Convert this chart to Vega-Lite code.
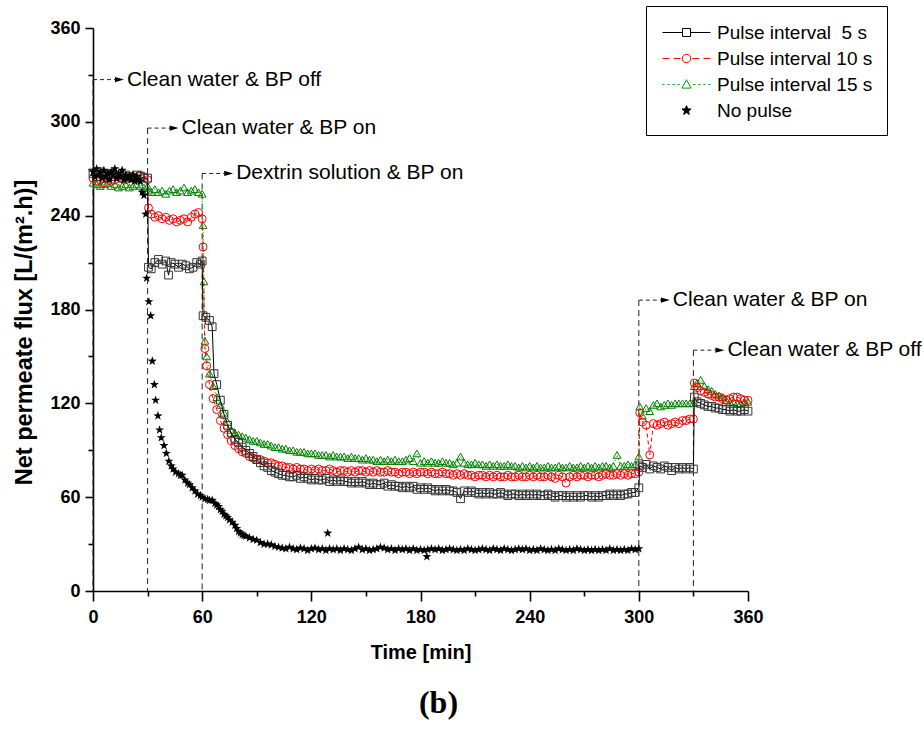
{
  "$schema": "https://vega.github.io/schema/vega-lite/v6.json",
  "width": 655,
  "height": 563,
  "autosize": {"type": "none"},
  "padding": {"left": 93, "top": 28, "right": 176, "bottom": 144},
  "background": "white",
  "config": {"view": {"stroke": null}, "font": "Liberation Sans"},
  "title": {"text": "(b)", "orient": "bottom", "font": "Liberation Serif", "fontSize": 32, "fontWeight": "bold", "color": "black", "offset": 26, "dx": 18},
  "datasets": {
    "lg": [
      {"s": "Pulse interval \u00a05 s"},
      {"s": "Pulse interval 10 s"},
      {"s": "Pulse interval 15 s"},
      {"s": "No pulse"}
    ],
    "ev": [
      {"t": 0, "h": 327, "lab": "Clean water & BP off"},
      {"t": 30, "h": 296, "lab": "Clean water & BP on"},
      {"t": 60, "h": 267, "lab": "Dextrin solution & BP on"},
      {"t": 300, "h": 186, "lab": "Clean water & BP on"},
      {"t": 330, "h": 154, "lab": "Clean water & BP off"}
    ],
    "p5": [
      {"t":0,"v":267},{"t":2,"v":265},{"t":4,"v":268},{"t":6,"v":264},{"t":8,"v":266},{"t":10,"v":267},{"t":12,"v":265},{"t":14,"v":266},{"t":16,"v":264},{"t":18,"v":266},{"t":20,"v":265},{"t":22,"v":264},{"t":24,"v":266},{"t":26,"v":265},{"t":28,"v":264},{"t":30,"v":264},
      {"t":30.5,"v":207},{"t":32,"v":206},{"t":34,"v":210},{"t":36,"v":212},{"t":38,"v":209},{"t":40,"v":211},{"t":41.5,"v":202},{"t":43,"v":210},{"t":45,"v":209},{"t":47,"v":207},{"t":49,"v":209},{"t":51,"v":208},{"t":53,"v":206},{"t":55,"v":207},{"t":57,"v":210},{"t":59,"v":209},{"t":60,"v":211},
      {"t":60.5,"v":176},{"t":62,"v":175},{"t":64,"v":173},{"t":65.5,"v":169},{"t":66.5,"v":139},{"t":68,"v":132},{"t":70,"v":122},{"t":72,"v":113},{"t":74,"v":106},{"t":76,"v":101},{"t":78,"v":97},{"t":80,"v":95},{"t":82,"v":92},{"t":84,"v":90},{"t":86,"v":88},{"t":88,"v":86},{"t":90,"v":84},{"t":92,"v":82},{"t":94,"v":80},{"t":96,"v":79},{"t":98,"v":77},{"t":100,"v":76},{"t":102,"v":75},{"t":104,"v":74},{"t":106,"v":74},{"t":108,"v":73},{"t":110,"v":73},{"t":112,"v":74},{"t":114,"v":72},{"t":116,"v":73},{"t":118,"v":72},{"t":120,"v":71},{"t":122,"v":72},{"t":124,"v":71},{"t":126,"v":71},{"t":128,"v":72},{"t":130,"v":70},{"t":132,"v":71},{"t":134,"v":70},{"t":136,"v":71},{"t":138,"v":70},{"t":140,"v":70},{"t":142,"v":69},{"t":144,"v":70},{"t":146,"v":69},{"t":148,"v":70},{"t":150,"v":69},{"t":152,"v":68},{"t":154,"v":69},{"t":156,"v":68},{"t":158,"v":68},{"t":160,"v":69},{"t":162,"v":67},{"t":164,"v":68},{"t":166,"v":67},{"t":168,"v":67},{"t":170,"v":66},{"t":172,"v":67},{"t":174,"v":66},{"t":176,"v":67},{"t":178,"v":65},{"t":180,"v":66},{"t":182,"v":65},{"t":184,"v":66},{"t":186,"v":65},{"t":188,"v":64},{"t":190,"v":65},{"t":192,"v":64},{"t":194,"v":65},{"t":196,"v":64},{"t":198,"v":64},{"t":200,"v":63},{"t":202,"v":59},{"t":204,"v":64},{"t":206,"v":63},{"t":208,"v":64},{"t":210,"v":63},{"t":212,"v":62},{"t":214,"v":63},{"t":216,"v":62},{"t":218,"v":63},{"t":220,"v":62},{"t":222,"v":62},{"t":224,"v":63},{"t":226,"v":62},{"t":228,"v":61},{"t":230,"v":62},{"t":232,"v":62},{"t":234,"v":61},{"t":236,"v":62},{"t":238,"v":61},{"t":240,"v":62},{"t":242,"v":61},{"t":244,"v":62},{"t":246,"v":61},{"t":248,"v":61},{"t":250,"v":62},{"t":252,"v":61},{"t":254,"v":60},{"t":256,"v":61},{"t":258,"v":61},{"t":260,"v":60},{"t":262,"v":61},{"t":264,"v":60},{"t":266,"v":61},{"t":268,"v":60},{"t":270,"v":61},{"t":272,"v":61},{"t":274,"v":60},{"t":276,"v":61},{"t":278,"v":60},{"t":280,"v":61},{"t":282,"v":61},{"t":284,"v":62},{"t":286,"v":61},{"t":288,"v":62},{"t":290,"v":61},{"t":292,"v":62},{"t":294,"v":62},{"t":296,"v":63},{"t":298,"v":63},{"t":300,"v":66},
      {"t":300.5,"v":80},{"t":302,"v":79},{"t":304,"v":81},{"t":306,"v":78},{"t":308,"v":80},{"t":310,"v":79},{"t":312,"v":78},{"t":314,"v":80},{"t":316,"v":79},{"t":318,"v":77},{"t":320,"v":79},{"t":322,"v":78},{"t":324,"v":79},{"t":326,"v":78},{"t":328,"v":79},{"t":330,"v":78},
      {"t":330.5,"v":124},{"t":332,"v":121},{"t":334,"v":120},{"t":336,"v":119},{"t":338,"v":118},{"t":340,"v":118},{"t":342,"v":117},{"t":344,"v":117},{"t":346,"v":116},{"t":348,"v":116},{"t":350,"v":115},{"t":352,"v":116},{"t":354,"v":115},{"t":356,"v":115},{"t":358,"v":116},{"t":360,"v":115}
    ],
    "p10": [
      {"t":0,"v":264},{"t":2,"v":262},{"t":4,"v":263},{"t":6,"v":261},{"t":8,"v":264},{"t":10,"v":262},{"t":12,"v":263},{"t":14,"v":265},{"t":16,"v":264},{"t":18,"v":263},{"t":20,"v":264},{"t":22,"v":265},{"t":24,"v":264},{"t":26,"v":266},{"t":28,"v":265},{"t":30,"v":263},
      {"t":30.5,"v":245},{"t":32,"v":241},{"t":34,"v":239},{"t":36,"v":240},{"t":38,"v":238},{"t":40,"v":239},{"t":42,"v":237},{"t":44,"v":238},{"t":46,"v":236},{"t":48,"v":237},{"t":50,"v":238},{"t":52,"v":236},{"t":54,"v":239},{"t":56,"v":241},{"t":58,"v":242},{"t":60,"v":238},
      {"t":60.5,"v":220},{"t":61.5,"v":155},{"t":62.5,"v":144},{"t":64,"v":132},{"t":66,"v":123},{"t":68,"v":116},{"t":70,"v":109},{"t":72,"v":104},{"t":74,"v":100},{"t":76,"v":96},{"t":78,"v":93},{"t":80,"v":91},{"t":82,"v":89},{"t":84,"v":88},{"t":86,"v":86},{"t":88,"v":85},{"t":90,"v":84},{"t":92,"v":84},{"t":94,"v":83},{"t":96,"v":82},{"t":98,"v":82},{"t":100,"v":81},{"t":102,"v":80},{"t":104,"v":80},{"t":106,"v":79},{"t":108,"v":79},{"t":110,"v":78},{"t":112,"v":79},{"t":114,"v":78},{"t":116,"v":78},{"t":118,"v":77},{"t":120,"v":78},{"t":122,"v":77},{"t":124,"v":78},{"t":126,"v":77},{"t":128,"v":77},{"t":130,"v":78},{"t":132,"v":77},{"t":134,"v":76},{"t":136,"v":77},{"t":138,"v":77},{"t":140,"v":76},{"t":142,"v":77},{"t":144,"v":76},{"t":146,"v":77},{"t":148,"v":77},{"t":150,"v":76},{"t":152,"v":77},{"t":154,"v":76},{"t":156,"v":77},{"t":158,"v":76},{"t":160,"v":76},{"t":162,"v":77},{"t":164,"v":76},{"t":166,"v":76},{"t":168,"v":75},{"t":170,"v":76},{"t":172,"v":76},{"t":174,"v":75},{"t":176,"v":76},{"t":178,"v":75},{"t":180,"v":76},{"t":182,"v":76},{"t":184,"v":75},{"t":186,"v":76},{"t":188,"v":75},{"t":190,"v":75},{"t":192,"v":76},{"t":194,"v":75},{"t":196,"v":75},{"t":198,"v":74},{"t":200,"v":75},{"t":202,"v":74},{"t":204,"v":75},{"t":206,"v":74},{"t":208,"v":74},{"t":210,"v":73},{"t":212,"v":74},{"t":214,"v":74},{"t":216,"v":73},{"t":218,"v":74},{"t":220,"v":73},{"t":222,"v":74},{"t":224,"v":73},{"t":226,"v":73},{"t":228,"v":74},{"t":230,"v":73},{"t":232,"v":73},{"t":234,"v":74},{"t":236,"v":73},{"t":238,"v":73},{"t":240,"v":74},{"t":242,"v":73},{"t":244,"v":74},{"t":246,"v":73},{"t":248,"v":73},{"t":250,"v":74},{"t":252,"v":73},{"t":254,"v":72},{"t":256,"v":74},{"t":258,"v":73},{"t":260,"v":69},{"t":262,"v":73},{"t":264,"v":74},{"t":266,"v":73},{"t":268,"v":74},{"t":270,"v":74},{"t":272,"v":73},{"t":274,"v":74},{"t":276,"v":74},{"t":278,"v":73},{"t":280,"v":74},{"t":282,"v":75},{"t":284,"v":74},{"t":286,"v":74},{"t":288,"v":75},{"t":290,"v":74},{"t":292,"v":75},{"t":294,"v":74},{"t":296,"v":75},{"t":298,"v":75},{"t":300,"v":76},
      {"t":300.5,"v":114},{"t":302,"v":108},{"t":304,"v":106},{"t":306,"v":87},{"t":308,"v":107},{"t":310,"v":106},{"t":312,"v":107},{"t":314,"v":108},{"t":316,"v":106},{"t":318,"v":107},{"t":320,"v":108},{"t":322,"v":107},{"t":324,"v":109},{"t":326,"v":109},{"t":328,"v":110},{"t":330,"v":110},
      {"t":330.5,"v":133},{"t":332,"v":130},{"t":334,"v":128},{"t":336,"v":127},{"t":338,"v":126},{"t":340,"v":125},{"t":342,"v":124},{"t":344,"v":124},{"t":346,"v":123},{"t":348,"v":122},{"t":350,"v":123},{"t":352,"v":124},{"t":354,"v":124},{"t":356,"v":123},{"t":358,"v":122},{"t":360,"v":122}
    ],
    "p15": [
      {"t":0,"v":261},{"t":2,"v":260},{"t":4,"v":259},{"t":6,"v":260},{"t":8,"v":261},{"t":10,"v":259},{"t":12,"v":260},{"t":14,"v":258},{"t":16,"v":259},{"t":18,"v":260},{"t":20,"v":258},{"t":22,"v":259},{"t":24,"v":260},{"t":26,"v":259},{"t":28,"v":258},{"t":30,"v":259},
      {"t":30.5,"v":256},{"t":32,"v":255},{"t":34,"v":257},{"t":36,"v":255},{"t":38,"v":256},{"t":40,"v":254},{"t":42,"v":256},{"t":44,"v":257},{"t":46,"v":255},{"t":48,"v":256},{"t":50,"v":258},{"t":52,"v":255},{"t":54,"v":256},{"t":56,"v":257},{"t":58,"v":255},{"t":60,"v":254},
      {"t":60.5,"v":234},{"t":61,"v":198},{"t":61.5,"v":160},{"t":62.5,"v":150},{"t":64,"v":139},{"t":66,"v":131},{"t":68,"v":124},{"t":70,"v":119},{"t":72,"v":114},{"t":74,"v":108},{"t":76,"v":103},{"t":78,"v":101},{"t":80,"v":100},{"t":82,"v":99},{"t":84,"v":98},{"t":86,"v":97},{"t":88,"v":96},{"t":90,"v":96},{"t":92,"v":95},{"t":94,"v":94},{"t":96,"v":94},{"t":98,"v":93},{"t":100,"v":92},{"t":102,"v":92},{"t":104,"v":91},{"t":106,"v":91},{"t":108,"v":90},{"t":110,"v":90},{"t":112,"v":89},{"t":114,"v":89},{"t":116,"v":89},{"t":118,"v":88},{"t":120,"v":88},{"t":122,"v":88},{"t":124,"v":87},{"t":126,"v":87},{"t":128,"v":87},{"t":130,"v":86},{"t":132,"v":87},{"t":134,"v":86},{"t":136,"v":86},{"t":138,"v":86},{"t":140,"v":85},{"t":142,"v":86},{"t":144,"v":85},{"t":146,"v":85},{"t":148,"v":84},{"t":150,"v":85},{"t":152,"v":84},{"t":154,"v":84},{"t":156,"v":83},{"t":158,"v":84},{"t":160,"v":83},{"t":162,"v":84},{"t":164,"v":83},{"t":166,"v":84},{"t":168,"v":83},{"t":170,"v":83},{"t":172,"v":84},{"t":174,"v":85},{"t":176,"v":83},{"t":178,"v":88},{"t":180,"v":82},{"t":182,"v":83},{"t":184,"v":82},{"t":186,"v":83},{"t":188,"v":82},{"t":190,"v":82},{"t":192,"v":83},{"t":194,"v":82},{"t":196,"v":82},{"t":198,"v":81},{"t":200,"v":82},{"t":202,"v":86},{"t":204,"v":82},{"t":206,"v":81},{"t":208,"v":81},{"t":210,"v":82},{"t":212,"v":81},{"t":214,"v":81},{"t":216,"v":80},{"t":218,"v":81},{"t":220,"v":80},{"t":222,"v":81},{"t":224,"v":80},{"t":226,"v":80},{"t":228,"v":81},{"t":230,"v":80},{"t":232,"v":80},{"t":234,"v":79},{"t":236,"v":80},{"t":238,"v":79},{"t":240,"v":80},{"t":242,"v":79},{"t":244,"v":80},{"t":246,"v":79},{"t":248,"v":79},{"t":250,"v":80},{"t":252,"v":79},{"t":254,"v":79},{"t":256,"v":80},{"t":258,"v":79},{"t":260,"v":79},{"t":262,"v":80},{"t":264,"v":79},{"t":266,"v":79},{"t":268,"v":80},{"t":270,"v":79},{"t":272,"v":80},{"t":274,"v":79},{"t":276,"v":80},{"t":278,"v":79},{"t":280,"v":80},{"t":282,"v":80},{"t":284,"v":79},{"t":286,"v":80},{"t":288,"v":87},{"t":290,"v":80},{"t":292,"v":80},{"t":294,"v":81},{"t":296,"v":80},{"t":298,"v":81},{"t":300,"v":86},
      {"t":300.5,"v":118},{"t":302,"v":112},{"t":304,"v":117},{"t":306,"v":115},{"t":308,"v":119},{"t":310,"v":120},{"t":312,"v":118},{"t":314,"v":119},{"t":316,"v":120},{"t":318,"v":119},{"t":320,"v":120},{"t":322,"v":120},{"t":324,"v":120},{"t":326,"v":120},{"t":328,"v":120},{"t":330,"v":120},
      {"t":330.5,"v":131},{"t":332,"v":133},{"t":334,"v":135},{"t":336,"v":131},{"t":338,"v":129},{"t":340,"v":128},{"t":342,"v":126},{"t":344,"v":125},{"t":346,"v":124},{"t":348,"v":122},{"t":350,"v":121},{"t":352,"v":121},{"t":354,"v":120},{"t":356,"v":120},{"t":358,"v":121},{"t":360,"v":121}
    ],
    "np": [
      {"t":0,"v":268},{"t":1,"v":265},{"t":2,"v":270},{"t":3,"v":266},{"t":4,"v":268},{"t":5,"v":264},{"t":6,"v":269},{"t":7,"v":265},{"t":8,"v":267},{"t":9,"v":263},{"t":10,"v":268},{"t":11,"v":266},{"t":12,"v":270},{"t":13,"v":264},{"t":14,"v":267},{"t":15,"v":265},{"t":16,"v":269},{"t":17,"v":263},{"t":18,"v":266},{"t":19,"v":264},{"t":20,"v":265},{"t":21,"v":263},{"t":22,"v":266},{"t":23,"v":262},{"t":24,"v":265},{"t":25,"v":263},{"t":26,"v":262},{"t":27,"v":255},{"t":28,"v":253},{"t":29,"v":241},
      {"t":29.5,"v":200},{"t":30.7,"v":185},{"t":31.7,"v":176},{"t":32.6,"v":147},{"t":33.7,"v":132},{"t":34.4,"v":122},{"t":35.7,"v":112},{"t":36.6,"v":103},{"t":37.5,"v":98},{"t":39,"v":93},{"t":40.3,"v":88},{"t":41.7,"v":83},{"t":43,"v":80},{"t":44,"v":78},{"t":45.4,"v":76},{"t":47,"v":75},{"t":48,"v":74},{"t":49,"v":74},{"t":50.5,"v":71},{"t":52,"v":69},{"t":53,"v":68},{"t":54.5,"v":66},{"t":56,"v":64},{"t":57.5,"v":62},{"t":59,"v":61},{"t":60,"v":60},{"t":61.5,"v":59},{"t":63,"v":58.5},{"t":64,"v":58},{"t":65.5,"v":58},{"t":67,"v":56},{"t":68,"v":55},{"t":69,"v":54},{"t":70,"v":52},{"t":71,"v":51},{"t":72,"v":49},{"t":73,"v":48},{"t":74,"v":47},{"t":75,"v":45.5},{"t":76.5,"v":44},{"t":78,"v":42},{"t":79,"v":40},{"t":80,"v":38},{"t":81,"v":37},{"t":82,"v":36},{"t":83,"v":35.5},{"t":84,"v":35},{"t":86,"v":34},{"t":88,"v":33},{"t":90,"v":32.5},{"t":92,"v":31},{"t":94,"v":30},{"t":96,"v":30},{"t":98,"v":29.5},{"t":100,"v":28.5},{"t":102,"v":28},{"t":104,"v":27.5},
      {"t":106,"v":27},{"t":108,"v":28},{"t":110,"v":27},{"t":112,"v":26.5},{"t":114,"v":27.5},{"t":116,"v":27},{"t":118,"v":26},{"t":120,"v":27},{"t":122,"v":27.5},{"t":124,"v":26.5},{"t":126,"v":27},{"t":128,"v":26},{"t":129,"v":37},{"t":130,"v":27},{"t":132,"v":26.5},{"t":134,"v":27},{"t":136,"v":26},{"t":138,"v":27},{"t":140,"v":26.5},{"t":142,"v":26},{"t":144,"v":27},{"t":146,"v":28},{"t":148,"v":26.5},{"t":150,"v":27},{"t":152,"v":26},{"t":154,"v":26.5},{"t":156,"v":27},{"t":158,"v":28},{"t":160,"v":27.5},{"t":162,"v":26.5},{"t":164,"v":27},{"t":166,"v":26},{"t":168,"v":27},{"t":170,"v":26.5},{"t":172,"v":27},{"t":174,"v":26},{"t":176,"v":27},{"t":178,"v":26},{"t":180,"v":26.5},{"t":182,"v":26},{"t":183.5,"v":22},{"t":184,"v":26.5},{"t":186,"v":27},{"t":188,"v":26.5},{"t":190,"v":27},{"t":192,"v":26},{"t":194,"v":26.5},{"t":196,"v":27},{"t":198,"v":26.5},{"t":200,"v":26},{"t":202,"v":26.5},{"t":204,"v":26},{"t":206,"v":27},{"t":208,"v":26.5},{"t":210,"v":26},{"t":212,"v":26.5},{"t":214,"v":27},{"t":216,"v":26.5},{"t":218,"v":26},{"t":220,"v":27},{"t":222,"v":26.5},{"t":224,"v":26},{"t":226,"v":27},{"t":228,"v":26.5},{"t":230,"v":26},{"t":232,"v":26.5},{"t":234,"v":27},{"t":236,"v":26.5},{"t":238,"v":27},{"t":240,"v":26},{"t":242,"v":26.5},{"t":244,"v":26},{"t":246,"v":27},{"t":248,"v":26.5},{"t":250,"v":26},{"t":252,"v":26.5},{"t":254,"v":26},{"t":256,"v":27},{"t":258,"v":26.5},{"t":260,"v":26},{"t":262,"v":26.5},{"t":264,"v":26},{"t":266,"v":27},{"t":268,"v":26.5},{"t":270,"v":26},{"t":272,"v":26.5},{"t":274,"v":26},{"t":276,"v":26.5},{"t":278,"v":26},{"t":280,"v":26.5},{"t":282,"v":26},{"t":284,"v":27},{"t":286,"v":26},{"t":288,"v":26.5},{"t":290,"v":26},{"t":292,"v":26.5},{"t":294,"v":26},{"t":296,"v":27},{"t":298,"v":26.5},{"t":300,"v":27}
    ]
  },
  "layer": [
    {
      "data": {"name": "ev"},
      "mark": {"type": "rule", "color": "#222", "strokeWidth": 1, "strokeDash": [6, 4]},
      "encoding": {
        "x": {"field": "t", "type": "quantitative", "scale": {"domain": [0, 360], "nice": false},
          "axis": {"title": "Time [min]", "values": [0,30,60,90,120,150,180,210,240,270,300,330,360],
            "labelExpr": "datum.value % 60 === 0 ? datum.label : ''", "grid": false,
            "domainColor": "black", "domainWidth": 1.6, "tickColor": "black", "tickWidth": 1.6,
            "tickSize": {"condition": {"test": "datum.value % 60 === 0", "value": 10}, "value": 5},
            "labelFont": "Liberation Sans", "labelFontSize": 18, "labelFontWeight": "bold", "labelColor": "black",
            "labelPadding": 7, "labelFlush": false, "labelOverlap": false,
            "titleFont": "Liberation Sans", "titleFontSize": 20, "titleFontWeight": "bold", "titleColor": "black", "titlePadding": 16}},
        "y": {"field": "h", "type": "quantitative", "scale": {"domain": [0, 360], "nice": false},
          "axis": {"title": "Net permeate flux [L/(m\u00b2.h)]", "values": [0,30,60,90,120,150,180,210,240,270,300,330,360],
            "labelExpr": "datum.value % 60 === 0 ? datum.label : ''", "grid": false,
            "domainColor": "black", "domainWidth": 1.6, "tickColor": "black", "tickWidth": 1.6,
            "tickSize": {"condition": {"test": "datum.value % 60 === 0", "value": 8}, "value": 5},
            "labelFont": "Liberation Sans", "labelFontSize": 18, "labelFontWeight": "bold", "labelColor": "black",
            "labelPadding": 5, "labelFlush": false, "labelOverlap": false,
            "titleFont": "Liberation Sans", "titleFontSize": 23.5, "titleFontWeight": "bold", "titleColor": "black",
            "titleX": -57, "titleY": 304}},
        "y2": {"datum": 0}
      }
    },
    {
      "data": {"name": "ev"},
      "mark": {"type": "rule", "color": "#222", "strokeWidth": 1, "strokeDash": [4, 3], "x2Offset": 22},
      "encoding": {
        "x": {"field": "t", "type": "quantitative"},
        "x2": {"field": "t"},
        "y": {"field": "h", "type": "quantitative"},
        "y2": {"field": "h"}
      }
    },
    {
      "data": {"name": "ev"},
      "mark": {"type": "point", "shape": "M-1,-0.6L1,0L-1,0.6Z", "filled": true, "color": "black", "size": 80, "opacity": 1, "xOffset": 26.5},
      "encoding": {
        "x": {"field": "t", "type": "quantitative"},
        "y": {"field": "h", "type": "quantitative"}
      }
    },
    {
      "data": {"name": "ev"},
      "mark": {"type": "text", "align": "left", "baseline": "middle", "dx": 34, "font": "Liberation Sans", "fontSize": 21, "color": "black"},
      "encoding": {
        "x": {"field": "t", "type": "quantitative"},
        "y": {"field": "h", "type": "quantitative"},
        "text": {"field": "lab"}
      }
    },
    {
      "data": {"name": "p15"},
      "mark": {"type": "line", "color": "#00dd00", "strokeWidth": 1, "strokeDash": [1.5, 2]},
      "encoding": {
        "x": {"field": "t", "type": "quantitative"},
        "y": {"field": "v", "type": "quantitative"}
      }
    },
    {
      "data": {"name": "p15"},
      "mark": {"type": "point", "shape": "triangle-up", "filled": false, "color": "#008000", "size": 60, "strokeWidth": 1, "opacity": 1},
      "encoding": {
        "x": {"field": "t", "type": "quantitative"},
        "y": {"field": "v", "type": "quantitative"}
      }
    },
    {
      "data": {"name": "p10"},
      "mark": {"type": "line", "color": "#ff0000", "strokeWidth": 1, "strokeDash": [4, 3]},
      "encoding": {
        "x": {"field": "t", "type": "quantitative"},
        "y": {"field": "v", "type": "quantitative"}
      }
    },
    {
      "data": {"name": "p10"},
      "mark": {"type": "point", "shape": "circle", "filled": false, "color": "#ff0000", "size": 64, "strokeWidth": 1, "opacity": 1},
      "encoding": {
        "x": {"field": "t", "type": "quantitative"},
        "y": {"field": "v", "type": "quantitative"}
      }
    },
    {
      "data": {"name": "p5"},
      "mark": {"type": "line", "color": "#000000", "strokeWidth": 1},
      "encoding": {
        "x": {"field": "t", "type": "quantitative"},
        "y": {"field": "v", "type": "quantitative"}
      }
    },
    {
      "data": {"name": "p5"},
      "mark": {"type": "point", "shape": "square", "filled": false, "color": "#333333", "size": 60, "strokeWidth": 1, "opacity": 1},
      "encoding": {
        "x": {"field": "t", "type": "quantitative"},
        "y": {"field": "v", "type": "quantitative"}
      }
    },
    {
      "data": {"name": "np"},
      "mark": {"type": "point", "shape": "M0,-1L0.235,-0.324L0.951,-0.309L0.38,0.124L0.588,0.809L0,0.4L-0.588,0.809L-0.38,0.124L-0.951,-0.309L-0.235,-0.324Z", "filled": true, "color": "#000000", "size": 90, "opacity": 1},
      "encoding": {
        "x": {"field": "t", "type": "quantitative"},
        "y": {"field": "v", "type": "quantitative"}
      }
    },
    {
      "data": {"name": "lg"},
      "mark": {"type": "point", "filled": false, "size": 0, "opacity": 1},
      "encoding": {
        "color": {"field": "s", "type": "nominal",
          "scale": {"domain": ["Pulse interval \u00a05 s", "Pulse interval 10 s", "Pulse interval 15 s", "No pulse"], "range": ["#000000", "#ff0000", "#00a000", "#000000"]},
          "legend": {"title": null, "orient": "none", "legendX": 553, "legendY": -22,
            "padding": 14, "strokeColor": "black", "fillColor": "white",
            "labelFont": "Liberation Sans", "labelFontSize": 19, "labelColor": "black", "labelLimit": 400,
            "symbolSize": 576, "symbolOffset": 14, "labelOffset": 18, "rowPadding": 3, "symbolStrokeWidth": 1, "symbolOpacity": 1}},
        "shape": {"field": "s", "type": "nominal",
          "scale": {"domain": ["Pulse interval \u00a05 s", "Pulse interval 10 s", "Pulse interval 15 s", "No pulse"],
            "range": [
              "M-2,0H-0.333M0.333,0H2M-0.333,-0.333H0.333V0.333H-0.333Z",
              "M-2,0H-1.42M-1.07,0H-0.5M0.5,0H1.07M1.42,0H2M0.35,0A0.35,0.35 0 1,1 -0.35,0A0.35,0.35 0 1,1 0.35,0Z",
              "M-2,0H-1.83M-1.58,0H-1.41M-1.16,0H-0.99M-0.74,0H-0.57M0.57,0H0.74M0.99,0H1.16M1.41,0H1.58M1.83,0H2M0,-0.4L0.38,0.3H-0.38Z",
              "M0,-0.4L0.1,-0.138L0.38,-0.124L0.162,0.053L0.235,0.324L0,0.17L-0.235,0.324L-0.162,0.053L-0.38,-0.124L-0.1,-0.138Z"
            ]},
          "legend": {"title": null, "orient": "none", "legendX": 553, "legendY": -22,
            "padding": 14, "strokeColor": "black", "fillColor": "white",
            "labelFont": "Liberation Sans", "labelFontSize": 19, "labelColor": "black", "labelLimit": 400,
            "symbolSize": 576, "symbolOffset": 14, "labelOffset": 18, "rowPadding": 3, "symbolStrokeWidth": 1, "symbolOpacity": 1}},
        "fill": {"field": "s", "type": "nominal",
          "scale": {"domain": ["Pulse interval \u00a05 s", "Pulse interval 10 s", "Pulse interval 15 s", "No pulse"], "range": ["transparent", "transparent", "transparent", "#000000"]},
          "legend": {"title": null, "orient": "none", "legendX": 553, "legendY": -22,
            "padding": 14, "strokeColor": "black", "fillColor": "white",
            "labelFont": "Liberation Sans", "labelFontSize": 19, "labelColor": "black", "labelLimit": 400,
            "symbolSize": 576, "symbolOffset": 14, "labelOffset": 18, "rowPadding": 3, "symbolStrokeWidth": 1, "symbolOpacity": 1}}
      }
    }
  ]
}
